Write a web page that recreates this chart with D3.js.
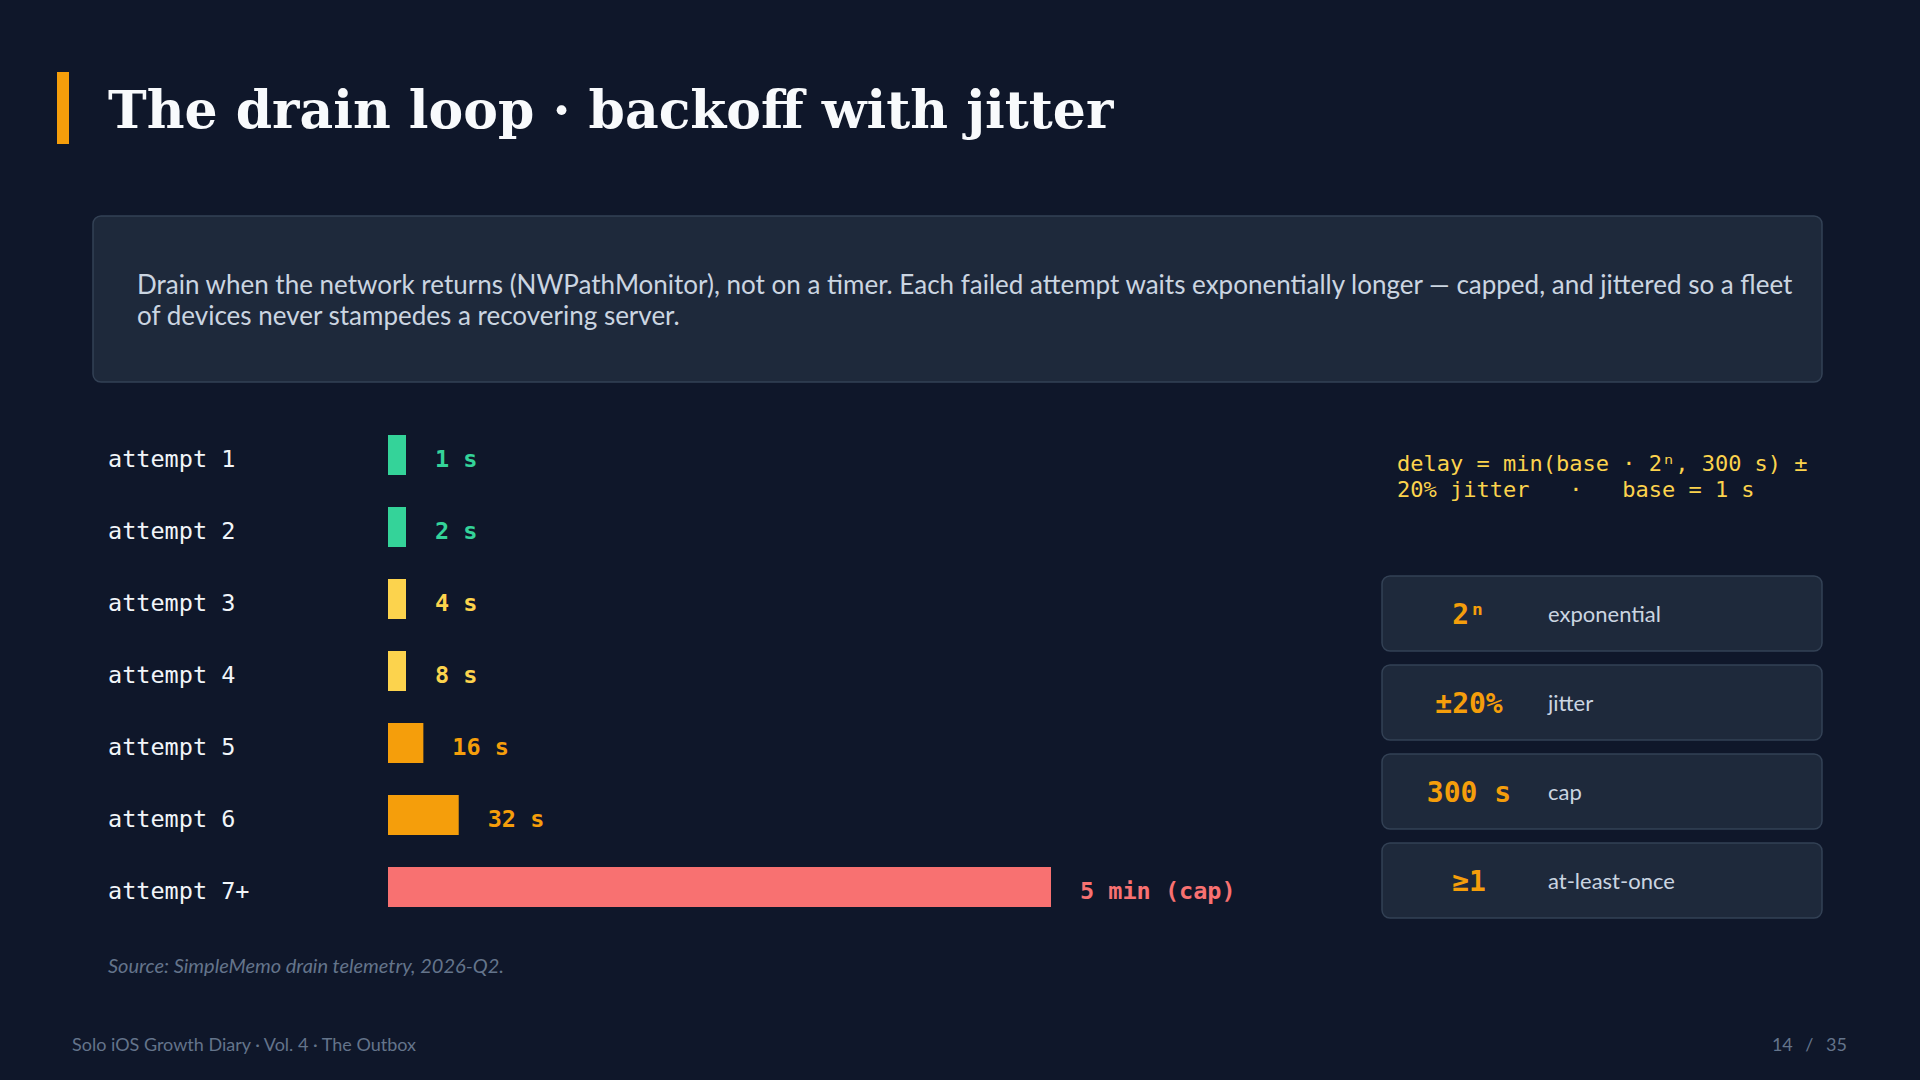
<!DOCTYPE html>
<html>
<head>
<meta charset="utf-8">
<script src="https://cdn.jsdelivr.net/npm/d3@7"></script>
<style>
  html, body { margin: 0; padding: 0; background: #0f172a; }
  svg { display: block; }
</style>
</head>
<body>
<svg id="slide"></svg>
<script>
// data
const attempts = ["attempt 1", "attempt 2", "attempt 3", "attempt 4", "attempt 5", "attempt 6", "attempt 7+"];
const delaySeconds = [1, 2, 4, 8, 16, 32, 300];
const delayLabels = ["1 s", "2 s", "4 s", "8 s", "16 s", "32 s", "5 min (cap)"];
const delayTier = ["fast", "fast", "mid", "mid", "slow", "slow", "cap"];

const cardValues = ["2\u207F", "\u00B120%", "300 s", "\u22651"];
const cardLabels = ["exponential", "jitter", "cap", "at-least-once"];

const formulaLines = ["delay = min(base \u00B7 2\u207F, 300 s) \u00B1", "20% jitter   \u00B7   base = 1 s"];

const WIDTH = 1920, HEIGHT = 1080;
const MONO = "'DejaVu Sans Mono', monospace";
const SANS = "Lato, 'Noto Sans', sans-serif";

const tierColor = d3.scaleOrdinal()
  .domain(["fast", "mid", "slow", "cap"])
  .range(["#34d399", "#fcd34d", "#f59e0b", "#f87171"]);

const svg = d3.select("#slide")
  .attr("width", WIDTH)
  .attr("height", HEIGHT);

svg.append("rect").attr("width", WIDTH).attr("height", HEIGHT).attr("fill", "#0f172a");

// title
svg.append("rect")
  .attr("x", 57).attr("y", 72).attr("width", 12).attr("height", 72)
  .attr("fill", "#f59e0b");

svg.append("text")
  .attr("x", 108).attr("y", 128)
  .attr("fill", "#f8fafc")
  .attr("font-family", "'DejaVu Serif', serif")
  .attr("font-weight", "bold")
  .attr("font-size", 52)
  .text("The drain loop \u00B7 backoff with jitter");

// description box
svg.append("rect")
  .attr("x", 93).attr("y", 216).attr("width", 1729).attr("height", 166).attr("rx", 8)
  .attr("fill", "#1e293b").attr("stroke", "#334155").attr("stroke-width", 1.5);

const desc = svg.append("text")
  .attr("fill", "#cbd5e1")
  .attr("font-family", SANS)
  .attr("font-size", 26);
desc.append("tspan").attr("x", 137).attr("y", 294)
  .text("Drain when the network returns (NWPathMonitor), not on a timer. Each failed attempt waits exponentially longer \u2014 capped, and jittered so a fleet");
desc.append("tspan").attr("x", 137).attr("y", 325)
  .text("of devices never stampedes a recovering server.");

// bars
const barLeft = 388;
const barHeight = 40;
const minBar = 18;

const y = d3.scalePoint()
  .domain(attempts)
  .range([455, 887]);

const x = d3.scaleLinear()
  .domain([0, 300])
  .range([0, 663]);

const rows = attempts.map((a, i) => ({
  name: a, value: delaySeconds[i], label: delayLabels[i], tier: delayTier[i]
}));

const chart = svg.append("g").attr("class", "bars");

chart.selectAll(".row-label")
  .data(rows)
  .enter()
  .append("text")
  .attr("class", "row-label")
  .attr("x", 108)
  .attr("y", d => y(d.name) + 12)
  .attr("fill", "#f1f5f9")
  .attr("font-family", MONO)
  .attr("font-size", 23.5)
  .text(d => d.name);

chart.selectAll(".bar")
  .data(rows)
  .enter()
  .append("rect")
  .attr("class", "bar")
  .attr("x", barLeft)
  .attr("y", d => y(d.name) - barHeight / 2)
  .attr("width", d => Math.max(minBar, x(d.value)))
  .attr("height", barHeight)
  .attr("fill", d => tierColor(d.tier));

chart.selectAll(".value-label")
  .data(rows)
  .enter()
  .append("text")
  .attr("class", "value-label")
  .attr("x", d => barLeft + Math.max(minBar, x(d.value)) + 29)
  .attr("y", d => y(d.name) + 12)
  .attr("fill", d => tierColor(d.tier))
  .attr("font-family", MONO)
  .attr("font-weight", "bold")
  .attr("font-size", 23.5)
  .text(d => d.label);

// source
svg.append("text")
  .attr("x", 108).attr("y", 973)
  .attr("fill", "#64748b")
  .attr("font-family", SANS)
  .attr("font-style", "italic")
  .attr("font-size", 20)
  .text("Source: SimpleMemo drain telemetry, 2026-Q2.");

// formula
const formula = svg.append("text")
  .attr("fill", "#fcd34d")
  .attr("font-family", MONO)
  .attr("font-size", 22)
  .attr("xml:space", "preserve")
  .style("white-space", "pre");
formula.selectAll("tspan")
  .data(formulaLines)
  .enter()
  .append("tspan")
  .attr("x", 1397)
  .attr("y", (d, i) => 471 + i * 26)
  .text(d => d);

// cards
const cardStep = 89, cardGap = 14;
const cardY = d3.scaleBand()
  .domain(d3.range(cardValues.length))
  .range([576, 576 + cardStep * cardValues.length - cardGap])
  .paddingInner(cardGap / cardStep)
  .paddingOuter(0);

const cards = svg.selectAll(".card")
  .data(cardValues.map((v, i) => ({ value: v, label: cardLabels[i], i })))
  .enter()
  .append("g")
  .attr("class", "card")
  .attr("transform", d => `translate(1382,${cardY(d.i)})`);

cards.append("rect")
  .attr("width", 440)
  .attr("height", cardY.bandwidth())
  .attr("rx", 8)
  .attr("fill", "#1e293b")
  .attr("stroke", "#334155")
  .attr("stroke-width", 1.5);

cards.append("text")
  .attr("x", 87)
  .attr("y", cardY.bandwidth() / 2 + 10)
  .attr("text-anchor", "middle")
  .attr("fill", "#f59e0b")
  .attr("font-family", MONO)
  .attr("font-weight", "bold")
  .attr("font-size", 28)
  .text(d => d.value);

cards.append("text")
  .attr("x", 166)
  .attr("y", cardY.bandwidth() / 2 + 8)
  .attr("fill", "#cbd5e1")
  .attr("font-family", SANS)
  .attr("font-size", 22)
  .text(d => d.label);

// footer
svg.append("text")
  .attr("x", 72).attr("y", 1051)
  .attr("fill", "#64748b")
  .attr("font-family", SANS)
  .attr("font-size", 18)
  .text("Solo iOS Growth Diary \u00B7 Vol. 4 \u00B7 The Outbox");

svg.append("text")
  .attr("x", 1847).attr("y", 1051)
  .attr("text-anchor", "end")
  .attr("fill", "#64748b")
  .attr("font-family", SANS)
  .attr("font-size", 18)
  .attr("word-spacing", 8)
  .text("14 / 35");
</script>
</body>
</html>
